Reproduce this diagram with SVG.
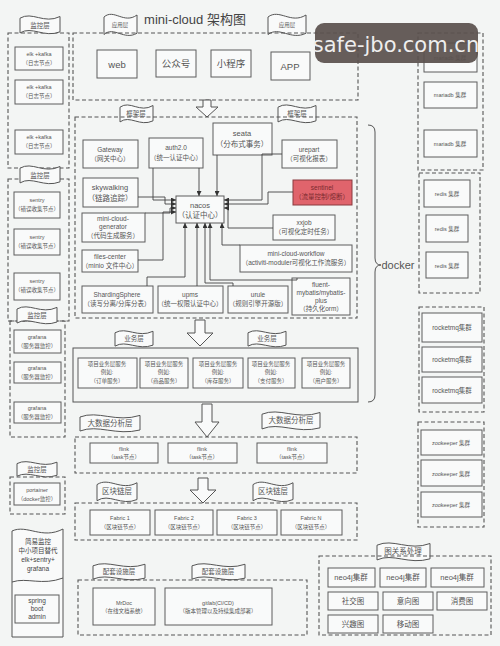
<svg xmlns="http://www.w3.org/2000/svg" width="500" height="646" viewBox="0 0 500 646">
<defs>
<style>
.bg{fill:#f3f5f4}
.box{fill:#f9fafa;stroke:#5c5c5c;stroke-width:1}
.red{fill:#e0646c;stroke:#8a3a3e;stroke-width:1}
.dash{fill:none;stroke:#555;stroke-width:1.1;stroke-dasharray:4 2.5}
.solid{fill:none;stroke:#555;stroke-width:1}
.ban{fill:#f9fafa;stroke:#555;stroke-width:1}
.arr{fill:#f9fafa;stroke:#555;stroke-width:1}
.con{fill:none;stroke:#444;stroke-width:0.9;marker-end:url(#ah)}
text{font-family:"Liberation Sans","Noto Sans CJK SC",sans-serif;fill:#555;text-anchor:middle}
.t5{font-size:5.5px}
.t6{font-size:6.5px}
.t7{font-size:7.5px}
.t9{font-size:9.5px}
</style>
<marker id="ah" viewBox="0 0 6 6" refX="6" refY="3" markerWidth="5" markerHeight="5" orient="auto" markerUnits="userSpaceOnUse">
<path d="M0,0 L6,3 L0,6 Z" fill="#333"/>
</marker>
</defs>
<rect class="bg" x="0" y="0" width="500" height="646"/>

<text x="195" y="24" style="font-size:13px;fill:#444">mini-cloud 架构图</text>

<!-- left monitoring column -->
<g id="mon1">
<rect class="dash" x="8" y="33" width="61" height="135"/>
<rect class="box" x="15" y="47" width="48" height="23"/><text class="t5" x="39" y="56">elk +kafka</text><text class="t5" x="39" y="65">（日志节点）</text>
<rect class="box" x="15" y="80" width="48" height="24"/><text class="t5" x="39" y="89">elk +kafka</text><text class="t5" x="39" y="98">（日志节点）</text>
<rect class="box" x="15" y="130" width="48" height="24"/><text class="t5" x="39" y="139">elk +kafka</text><text class="t5" x="39" y="148">（日志节点）</text>
</g>
<g id="mon2">
<rect class="dash" x="8" y="179" width="61" height="142"/>
<rect class="box" x="14" y="192" width="46" height="26"/><text class="t5" x="37" y="202">sentry</text><text class="t5" x="37" y="211">（错误收集节点）</text>
<rect class="box" x="14" y="229" width="46" height="26"/><text class="t5" x="37" y="239">sentry</text><text class="t5" x="37" y="248">（错误收集节点）</text>
<rect class="box" x="14" y="273" width="46" height="27"/><text class="t5" x="37" y="283">sentry</text><text class="t5" x="37" y="292">（错误收集节点）</text>
</g>
<g id="mon3">
<rect class="dash" x="10" y="321" width="55" height="116"/>
<rect class="box" x="14" y="330" width="47" height="23"/><text class="t5" x="37" y="339">grafana</text><text class="t5" x="37" y="348">（服务器监控）</text>
<rect class="box" x="14" y="362" width="47" height="21"/><text class="t5" x="37" y="370">grafana</text><text class="t5" x="37" y="379">（服务器监控）</text>
<rect class="box" x="14" y="402" width="47" height="21"/><text class="t5" x="37" y="410">grafana</text><text class="t5" x="37" y="419">（服务器监控）</text>
</g>
<g id="mon4">
<rect class="dash" x="10" y="477" width="55" height="37"/>
<rect class="box" x="14" y="483" width="46" height="22"/><text class="t5" x="37" y="492">portainer</text><text class="t5" x="37" y="501">（docker监控）</text>
</g>
<g id="sba">
<path class="solid" d="M12,531 C27,524 42,540 63,529 L63,637 L12,637 Z" style="fill:#f9fafa"/>
<path class="solid" d="M12,582 C27,577 42,586 63,578"/>
<text class="t6" x="38" y="544" style="fill:#444">简易监控</text>
<text class="t6" x="38" y="553" style="fill:#444">中小项目替代</text>
<text class="t6" x="38" y="562" style="fill:#444">elk+sentry+</text>
<text class="t6" x="38" y="571" style="fill:#444">grafana</text>
<rect class="box" x="15" y="595" width="44" height="28"/>
<text class="t6" x="37" y="603" style="fill:#444">spring</text><text class="t6" x="37" y="611" style="fill:#444">boot</text><text class="t6" x="37" y="619" style="fill:#444">admin</text>
</g>

<!-- banners -->
<g id="banners">
<path class="ban" d="M20,18.2 C32,10.85 44,24.5 60,16.52 L60,31.85 C44,38.15 32,25.55 20,32.9 Z"/>
<path class="ban" d="M20,168.2 C32,160.85 44,174.5 60,166.52 L60,181.85 C44,188.15 32,175.55 20,182.9 Z"/>
<path class="ban" d="M17,309 C29,302 41,315 57,307.4 L57,322 C41,328 29,316 17,323 Z"/>
<path class="ban" d="M17,463.6 C29,457.3 41,469 57,462.2 L57,475.3 C41,480.7 29,469.9 17,476.2 Z"/>
<path class="ban" d="M104,17 C113.9,8.25 123.8,24.5 137,15 L137,33.25 C123.8,40.75 113.9,25.75 104,34.5 Z"/>
<path class="ban" d="M268,17 C279.4,8.25 290.8,24.5 306,15 L306,33.25 C290.8,40.75 279.4,25.75 268,34.5 Z"/>
<path class="ban" d="M120,107.2 C129.9,99.85 139.8,113.5 153,105.52 L153,120.85 C139.8,127.15 129.9,114.55 120,121.9 Z"/>
<path class="ban" d="M278,107.2 C289.4,99.85 300.8,113.5 316,105.52 L316,120.85 C300.8,127.15 289.4,114.55 278,121.9 Z"/>
<path class="ban" d="M115,332.8 C126.4,326.15 137.8,338.5 153,331.28 L153,345.15 C137.8,350.85 126.4,339.45 115,346.1 Z"/>
<path class="ban" d="M248,332.8 C259.4,326.15 270.8,338.5 286,331.28 L286,345.15 C270.8,350.85 259.4,339.45 248,346.1 Z"/>
<path class="ban" d="M80,417 C98,410 116,423 140,415.4 L140,430 C116,436 98,424 80,431 Z"/>
<path class="ban" d="M262,414.2 C279.4,406.85 296.8,420.5 320,412.52 L320,427.85 C296.8,434.15 279.4,421.55 262,428.9 Z"/>
<path class="ban" d="M97,484.6 C109,476.55 121,491.5 137,482.76 L137,499.55 C121,506.45 109,492.65 97,500.7 Z"/>
<path class="ban" d="M253,484.6 C265,476.55 277,491.5 293,482.76 L293,499.55 C277,506.45 265,492.65 253,500.7 Z"/>
<path class="ban" d="M93,565.8 C108.6,559.15 124.2,571.5 145,564.28 L145,578.15 C124.2,583.85 108.6,572.45 93,579.1 Z"/>
<path class="ban" d="M192,565.8 C207.9,559.15 223.8,571.5 245,564.28 L245,578.15 C223.8,583.85 207.9,572.45 192,579.1 Z"/>
<path class="ban" d="M377,545.2 C392.9,537.85 408.8,551.5 430,543.52 L430,558.85 C408.8,565.15 392.9,552.55 377,559.9 Z"/>
<text class="t6" x="40" y="28">监控层</text>
<text class="t6" x="40" y="178">监控层</text>
<text class="t6" x="37" y="318">监控层</text>
<text class="t6" x="37" y="472">监控层</text>
<text class="t5" x="120" y="27">应用层</text>
<text class="t5" x="287" y="27">应用层</text>
<text class="t6" x="136" y="116">框架层</text>
<text class="t6" x="297" y="116">框架层</text>
<text class="t6" x="134" y="341">业务层</text>
<text class="t6" x="267" y="341">业务层</text>
<text class="t7" x="110" y="426">大数据分析层</text>
<text class="t7" x="291" y="423">大数据分析层</text>
<text class="t7" x="117" y="494">区块链层</text>
<text class="t7" x="273" y="494">区块链层</text>
<text class="t6" x="119" y="574">配套设施层</text>
<text class="t6" x="218" y="574">配套设施层</text>
<text class="t7" x="403" y="554">图关系处理</text>
</g>

<!-- app layer -->
<g id="app">
<rect class="dash" x="73" y="33" width="285" height="67"/>
<rect class="box" x="97" y="50" width="40" height="28"/><text class="t9" x="117" y="68">web</text>
<rect class="box" x="156" y="50" width="40" height="27"/><text class="t9" x="176" y="67">公众号</text>
<rect class="box" x="211" y="50" width="40" height="27"/><text class="t9" x="231" y="67">小程序</text>
<rect class="box" x="271" y="52" width="39" height="28"/><text class="t9" x="290" y="70">APP</text>
</g>

<!-- hollow arrows -->
<g id="arrows">
<polygon class="arr" points="203,100 211,100 211,107 218,107 207,117 196,107 203,107"/>
<polygon class="arr" points="195,320 205,320 205,333 213,333 200,346 187,333 195,333"/>
<polygon class="arr" points="202,404 212,404 212,422 219,422 207,437 195,422 202,422"/>
<polygon class="arr" points="198,478 208,478 208,490 216,490 203,503 190,490 198,490"/>
</g>

<!-- framework layer -->
<rect class="dash" x="75" y="117" width="282" height="201"/>
<g id="gateway"><rect class="box" x="83" y="140" width="55" height="28"/><text class="t6" x="110" y="152">Gateway</text><text class="t6" x="110" y="161">（网关中心）</text></g>
<g id="auth"><rect class="box" x="149" y="138" width="54" height="30"/><text class="t6" x="176" y="150">auth2.0</text><text class="t6" x="176" y="160">（统一认证中心）</text></g>
<g id="seata"><rect class="box" x="213" y="123" width="59" height="32"/><text class="t7" x="242" y="136">seata</text><text class="t7" x="242" y="147">（分布式事务）</text></g>
<g id="urepart"><rect class="box" x="282" y="140" width="55" height="28"/><text class="t6" x="309" y="152">urepart</text><text class="t6" x="309" y="161">（可视化报表）</text></g>
<g id="skywalking"><rect class="box" x="83" y="178" width="55" height="29"/><text class="t7" x="110" y="190">skywalking</text><text class="t7" x="110" y="201">（链路追踪）</text></g>
<g id="sentinel"><rect class="red" x="293" y="180" width="59" height="25"/><text class="t6" x="322" y="190" style="fill:#7a2a2e">sentinel</text><text class="t6" x="322" y="199" style="fill:#7a2a2e">（流量控制/熔断）</text></g>
<g id="nacos"><rect class="box" x="176" y="196" width="48" height="27"/><text class="t7" x="200" y="208">nacos</text><text class="t7" x="200" y="218">（认证中心）</text></g>
<g id="generator"><rect class="box" x="82" y="213" width="63" height="29"/><text class="t6" x="113" y="221">mini-cloud-</text><text class="t6" x="113" y="229">generator</text><text class="t6" x="113" y="238">（代码生成服务）</text></g>
<g id="xxjob"><rect class="box" x="273" y="215" width="62" height="25"/><text class="t6" x="304" y="225">xxjob</text><text class="t6" x="304" y="234">（可视化定时任务）</text></g>
<g id="files"><rect class="box" x="82" y="250" width="56" height="22"/><text class="t6" x="110" y="259">files-center</text><text class="t6" x="110" y="268">（minio 文件中心）</text></g>
<g id="workflow"><rect class="box" x="240" y="245" width="112" height="27"/><text class="t6" x="296" y="256">mini-cloud-workflow</text><text class="t6" x="296" y="265">（activiti-moduler可视化工作流服务）</text></g>
<g id="sharding"><rect class="box" x="82" y="286" width="71" height="27"/><text class="t6" x="117" y="297">ShardingSphere</text><text class="t6" x="117" y="306">（读写分离/分库分表）</text></g>
<g id="upms"><rect class="box" x="158" y="286" width="65" height="27"/><text class="t6" x="190" y="297">upms</text><text class="t6" x="190" y="306">（统一权限认证中心）</text></g>
<g id="urule"><rect class="box" x="228" y="286" width="60" height="27"/><text class="t6" x="258" y="297">urule</text><text class="t6" x="258" y="306">（规则引擎开源版）</text></g>
<g id="fluent"><rect class="box" x="292" y="278" width="58" height="37"/><text class="t6" x="321" y="287">fluent-</text><text class="t6" x="321" y="295">mybatis/mybatis-</text><text class="t6" x="321" y="303">plus</text><text class="t6" x="321" y="311">（持久化orm）</text></g>

<g id="connectors">
<polyline class="con" points="153,168 153,200 176,200"/>
<polyline class="con" points="138,197 165,197 165,204 176,204"/>
<polyline class="con" points="145,213 170,213 170,208 176,208"/>
<polyline class="con" points="138,260 163,260 163,212 176,212"/>
<polyline class="con" points="199,168 199,196"/>
<polyline class="con" points="217,155 217,196"/>
<polyline class="con" points="282,154 262,154 262,200 224,200"/>
<polyline class="con" points="293,192 268,192 268,204 224,204"/>
<polyline class="con" points="273,228 228,228 228,208 224,208"/>
<polyline class="con" points="147,286 147,277 185,277 185,223"/>
<polyline class="con" points="197,286 197,223"/>
<polyline class="con" points="233,286 233,283 205,283 205,223"/>
<polyline class="con" points="297,278 297,280 210,280 210,223"/>
<polyline class="con" points="240,245 222,245 222,223"/>
</g>

<!-- business layer -->
<g id="business">
<rect class="solid" x="73" y="348" width="285" height="54"/>
<rect class="box" x="78" y="358" width="59" height="30"/><text class="t5" x="107" y="366">项目业务层服务</text><text class="t5" x="107" y="374">例如:</text><text class="t5" x="107" y="383">（订单服务）</text>
<rect class="box" x="140" y="358" width="48" height="30"/><text class="t5" x="164" y="366">项目业务层服务</text><text class="t5" x="164" y="374">例如:</text><text class="t5" x="164" y="383">（商品服务）</text>
<rect class="box" x="193" y="358" width="50" height="30"/><text class="t5" x="218" y="366">项目业务层服务</text><text class="t5" x="218" y="374">例如:</text><text class="t5" x="218" y="383">（库存服务）</text>
<rect class="box" x="248" y="358" width="47" height="30"/><text class="t5" x="271" y="366">项目业务层服务</text><text class="t5" x="271" y="374">例如:</text><text class="t5" x="271" y="383">（支付服务）</text>
<rect class="box" x="302" y="358" width="48" height="30"/><text class="t5" x="326" y="366">项目业务层服务</text><text class="t5" x="326" y="374">例如:</text><text class="t5" x="326" y="383">（用户服务）</text>
</g>

<g id="bigdata">
<rect class="dash" x="75" y="437" width="282" height="36"/>
<rect class="box" x="90" y="443" width="68" height="20"/><text class="t5" x="124" y="451">flink</text><text class="t5" x="124" y="459">（task节点）</text>
<rect class="box" x="168" y="443" width="69" height="20"/><text class="t5" x="202" y="451">flink</text><text class="t5" x="202" y="459">（task节点）</text>
<rect class="box" x="257" y="443" width="70" height="20"/><text class="t5" x="292" y="451">flink</text><text class="t5" x="292" y="459">（task节点）</text>
</g>

<g id="blockchain">
<rect class="dash" x="75" y="503" width="282" height="37"/>
<rect class="box" x="90" y="510" width="60" height="25"/><text class="t5" x="120" y="520">Fabric 1</text><text class="t5" x="120" y="529">（区块链节点）</text>
<rect class="box" x="155" y="510" width="58" height="25"/><text class="t5" x="184" y="520">Fabric 2</text><text class="t5" x="184" y="529">（区块链节点）</text>
<rect class="box" x="217" y="510" width="60" height="25"/><text class="t5" x="247" y="520">Fabric 3</text><text class="t5" x="247" y="529">（区块链节点）</text>
<rect class="box" x="281" y="510" width="61" height="25"/><text class="t5" x="311" y="520">Fabric N</text><text class="t5" x="311" y="529">（区块链节点）</text>
</g>

<g id="support">
<rect class="dash" x="78" y="580" width="229" height="55"/>
<rect class="box" x="93" y="588" width="62" height="37"/><text class="t5" x="124" y="605">MrDoc</text><text class="t5" x="124" y="613">（在线文档系统）</text>
<rect class="box" x="165" y="588" width="107" height="37"/><text class="t5" x="218" y="605">gitlab(CI/CD)</text><text class="t5" x="218" y="613">（版本管理以及持续集成部署）</text>
</g>

<!-- docker brace -->
<g id="docker">
<path class="solid" d="M368,125 Q375,125 375,132 L375,258 Q375,265 381,265 Q375,265 375,272 L375,395 Q375,402 368,402"/>
<text x="398" y="269" style="font-size:11px">docker</text>
</g>

<!-- right clusters -->
<g id="mariadb">
<rect class="dash" x="418" y="33" width="65" height="137"/>
<rect class="box" x="424" y="43" width="53" height="29"/><text class="t5" x="450" y="60">mariadb 集群</text>
<rect class="box" x="424" y="82" width="53" height="26"/><text class="t5" x="450" y="97">mariadb 集群</text>
<rect class="box" x="424" y="130" width="53" height="27"/><text class="t5" x="450" y="146">mariadb 集群</text>
</g>
<g id="redis">
<rect class="dash" x="419" y="173" width="61" height="120"/>
<rect class="box" x="424" y="180" width="46" height="27"/><text class="t5" x="447" y="196">redis 集群</text>
<rect class="box" x="426" y="215" width="42" height="27"/><text class="t5" x="447" y="231">redis 集群</text>
<rect class="box" x="426" y="252" width="42" height="26"/><text class="t5" x="447" y="268">redis 集群</text>
</g>
<g id="rocketmq">
<rect class="dash" x="419" y="307" width="65" height="105"/>
<rect class="box" x="422" y="313" width="60" height="29"/><text class="t6" x="452" y="330">rocketmq集群</text>
<rect class="box" x="422" y="347" width="60" height="25"/><text class="t6" x="452" y="362">rocketmq集群</text>
<rect class="box" x="422" y="377" width="60" height="26"/><text class="t6" x="452" y="393">rocketmq集群</text>
</g>
<g id="zookeeper">
<rect class="dash" x="418" y="422" width="66" height="105"/>
<rect class="box" x="421" y="430" width="61" height="25"/><text class="t5" x="451" y="445">zookeeper 集群</text>
<rect class="box" x="421" y="460" width="61" height="26"/><text class="t5" x="451" y="476">zookeeper 集群</text>
<rect class="box" x="421" y="492" width="61" height="25"/><text class="t5" x="451" y="507">zookeeper 集群</text>
</g>
<g id="graph">
<rect class="dash" x="319" y="556" width="172" height="79"/>
<rect class="box" x="328" y="568" width="47" height="19"/><text class="t7" x="351" y="580">neo4j集群</text>
<rect class="box" x="380" y="568" width="46" height="19"/><text class="t7" x="403" y="580">neo4j集群</text>
<rect class="box" x="431" y="568" width="53" height="19"/><text class="t7" x="457" y="580">neo4j集群</text>
<rect class="box" x="328" y="592" width="50" height="18"/><text class="t7" x="353" y="604">社交图</text>
<rect class="box" x="383" y="592" width="50" height="18"/><text class="t7" x="408" y="604">意向图</text>
<rect class="box" x="437" y="592" width="50" height="18"/><text class="t7" x="462" y="604">消费图</text>
<rect class="box" x="328" y="615" width="50" height="18"/><text class="t7" x="353" y="627">兴趣图</text>
<rect class="box" x="383" y="615" width="50" height="18"/><text class="t7" x="408" y="627">移动图</text>
</g>

<!-- watermark -->
<g id="watermark">
<rect x="315" y="23" width="163" height="40" rx="9" fill="#5a514d" opacity="0.93"/>
<text x="396" y="52" style="font-size:21px;fill:#eeeeee;font-family:'DejaVu Sans','Liberation Sans',sans-serif">safe-jbo.com.cn</text>
</g>
</svg>
